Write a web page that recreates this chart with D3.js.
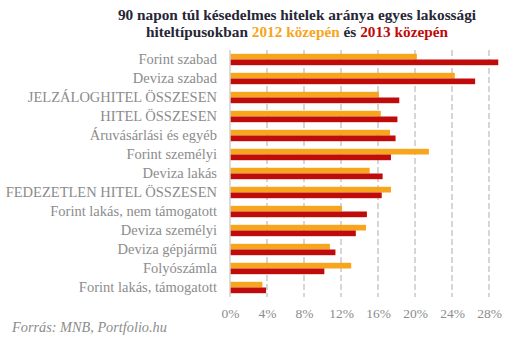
<!DOCTYPE html>
<html><head><meta charset="utf-8">
<script src="https://cdn.jsdelivr.net/npm/d3@7"></script>
<style>body{margin:0;background:#fff}svg{display:block}</style>
</head><body>
<svg id="c" width="531" height="342"></svg>
<script>
const categories = ["Forint szabad","Deviza szabad","JELZÁLOGHITEL ÖSSZESEN","HITEL ÖSSZESEN","Áruvásárlási és egyéb","Forint személyi","Deviza lakás","FEDEZETLEN HITEL ÖSSZESEN","Forint lakás, nem támogatott","Deviza személyi","Deviza gépjármű","Folyószámla","Forint lakás, támogatott"];
const values2012 = [20.2,24.3,16.1,16.3,17.3,21.5,15.1,17.4,12.1,14.7,10.8,13.1,3.5];
const values2013 = [29.0,26.5,18.3,18.1,17.9,17.4,16.5,16.4,14.8,13.6,11.4,10.2,3.9];
const seriesNames = ["2012 közepén","2013 közepén"];
const tickValues = [0,4,8,12,16,20,24,28];

const svg = d3.select("#c");
const font = "'Liberation Serif', 'DejaVu Serif', serif";
const colors = {"2012 közepén":"#F7A51C","2013 közepén":"#C00B0B"};

const x = d3.scaleLinear().domain([0,30]).range([230,507.5]);
const y = d3.scaleBand().domain(categories).range([50,297]).paddingInner(0.4).paddingOuter(0.2);
const ys = d3.scaleBand().domain(seriesNames).range([0,y.bandwidth()]);

// grid
svg.append("g").selectAll("line").data(tickValues.filter(d=>d>0)).join("line")
  .attr("x1",d=>x(d)).attr("x2",d=>x(d)).attr("y1",50).attr("y2",297)
  .attr("stroke","#d6d6d6").attr("stroke-width",2).attr("stroke-dasharray","6,3");

// bars
const rows = categories.map((c,i)=>({c, vals:[{s:seriesNames[0],v:values2012[i]},{s:seriesNames[1],v:values2013[i]}]}));
const g = svg.append("g").selectAll("g").data(rows).join("g").attr("transform",d=>`translate(0,${y(d.c)})`);
g.selectAll("rect").data(d=>d.vals).join("rect")
  .attr("x",x(0)).attr("y",d=>ys(d.s)).attr("height",ys.bandwidth())
  .attr("width",d=>x(d.v)-x(0)).attr("fill",d=>colors[d.s]);

// axis line
svg.append("line").attr("x1",x(0)).attr("x2",x(0)).attr("y1",50).attr("y2",297)
  .attr("stroke","#d0d0d0").attr("stroke-width",1.5);

// y labels
const yAxis = d3.axisLeft(y).tickSize(0).tickPadding(0);
const ya = svg.append("g").attr("transform","translate(217,0)").call(yAxis);
ya.select(".domain").remove();
ya.selectAll("text").attr("font-family",font).attr("font-size",14.5).attr("fill","#8c8c8c");

// x labels
const xAxis = d3.axisBottom(x).tickValues(tickValues).tickFormat(d=>d+"%").tickSize(0).tickPadding(0);
const xa = svg.append("g").attr("transform","translate(0,308)").call(xAxis);
xa.select(".domain").remove();
xa.selectAll("text").attr("font-family",font).attr("font-size",13.5).attr("fill","#8c8c8c");

// title
const t = svg.append("text").attr("text-anchor","middle").attr("font-family",font)
  .attr("font-weight","bold").attr("font-size",15.3).attr("fill","#262636");
t.append("tspan").attr("x",297).attr("y",20).text("90 napon túl késedelmes  hitelek aránya egyes  lakossági");
const l2 = t.append("tspan").attr("x",297).attr("y",36.5);
l2.append("tspan").text("hiteltípusokban ");
l2.append("tspan").attr("fill",colors[seriesNames[0]]).text(seriesNames[0]);
l2.append("tspan").text(" és ");
l2.append("tspan").attr("fill",colors[seriesNames[1]]).text(seriesNames[1]);

// source
svg.append("text").attr("x",12).attr("y",332).attr("font-family",font).attr("font-style","italic")
  .attr("font-size",14.3).attr("fill","#8c8c8c").text("Forrás: MNB, Portfolio.hu");
</script>
</body></html>
